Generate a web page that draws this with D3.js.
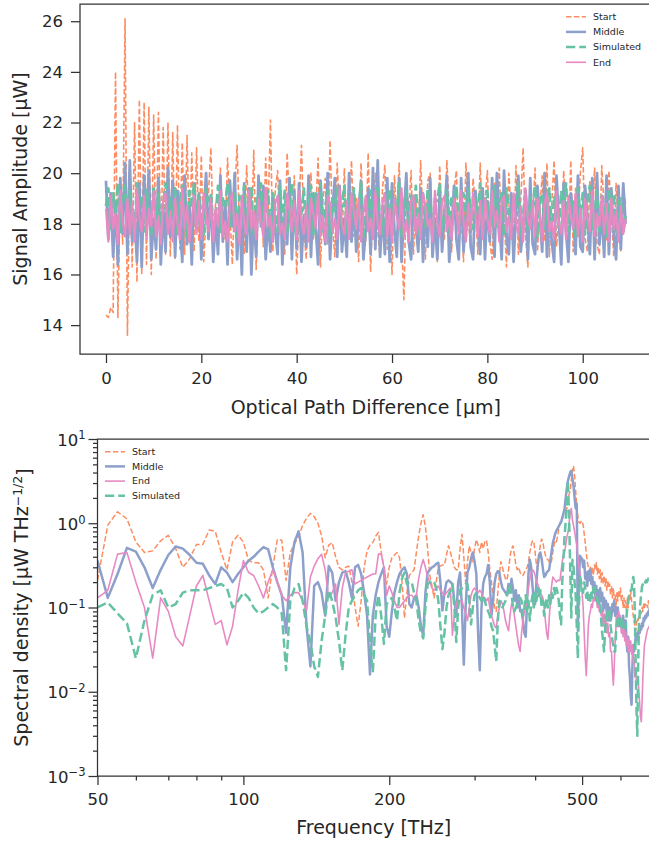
<!DOCTYPE html>
<html><head><meta charset="utf-8">
<script src="https://cdn.jsdelivr.net/npm/d3@7"></script>
<style>body{margin:0;background:#fff;} svg{display:block;background:#fff;}</style>
</head><body><svg id="chart" width="649" height="844"></svg>
<script>
// ---------------- DATA ----------------
// Top panel: signal amplitude (µW) vs optical path difference, sampled every 0.5 µm from 0 µm
const opdStart = 0, opdStep = 0.5;
const startSignal = [
14.4,14.3,14.7,14.5,24.0,14.3,19.5,17.2,26.1,13.6,
20.5,16.3,22.0,15.7,22.9,16.0,22.8,16.4,22.6,16.0,
22.3,16.6,22.4,16.5,21.8,16.8,22.0,16.7,21.6,16.6,
21.9,17.0,21.2,16.8,21.5,17.2,20.8,16.9,21.0,17.3,
20.7,16.5,18.3,19.2,21.0,17.6,18.8,16.9,20.2,18.0,
17.4,20.6,18.5,16.4,19.1,21.1,17.8,18.6,16.8,20.3,
18.2,17.5,20.9,16.2,18.9,19.6,17.1,20.6,18.4,22.1,
16.9,19.3,20.1,17.6,18.1,16.8,20.8,18.7,17.3,19.9,
16.0,18.6,21.1,17.9,16.6,19.2,20.0,17.4,18.5,20.6,
16.3,18.9,19.8,17.2,21.3,18.0,16.7,20.4,18.3,17.1,
20.2,16.8,18.7,20.5,17.5,19.0,16.5,20.4,18.1,17.3,
20.8,16.1,18.6,20.0,17.7,16.7,19.4,20.3,17.0,18.5,
16.0,19.9,18.2,20.4,17.3,15.0,19.6,18.4,20.1,16.8,
18.9,17.4,20.5,18.1,16.6,19.7,20.0,17.5,18.8,16.5,
20.3,18.0,17.4,20.5,18.6,16.9,19.3,20.1,17.2,18.4,
16.5,20.4,18.2,17.1,19.8,18.7,16.8,20.4,17.6,18.9,
20.1,17.3,16.6,19.6,18.3,20.2,17.0,18.5,16.3,20.0,
18.4,17.2,20.3,16.8,18.9,21.0,17.5,16.3,19.4,18.2,
20.2,16.9,18.6,19.9,17.3,20.4,16.7,18.8,20.5,17.1,
18.3,16.8,20.1,18.7,17.2,20.5,16.9,19.4,18.0,20.0,
21.0,17.4,16.9,19.7,18.5,20.2,17.2,16.8,20.3,18.6,
17.3,20.1,18.4,16.7,19.6,17.8,16.9,19.4,18.8];
const middleSignal = [
19.7,17.4,19.2,16.7,18.9,16.4,19.8,17.6,20.4,16.8,
20.5,17.3,18.4,16.5,19.6,16.3,19.9,17.8,20.1,16.6,
18.2,17.0,19.8,16.4,18.6,16.9,20.2,17.5,19.7,16.7,
19.3,18.1,16.5,19.9,17.2,18.7,16.4,19.6,17.8,19.2,
16.6,18.4,20.0,17.4,19.1,16.5,18.3,16.8,19.9,17.3,
18.9,16.4,19.7,17.9,20.0,16.6,18.6,16.0,19.6,16.9,
19.4,16.0,18.5,16.7,19.9,17.9,19.5,16.6,18.2,16.9,
19.1,17.7,16.8,19.7,16.4,18.4,17.2,19.8,16.6,19.3,
17.0,19.6,16.5,18.3,17.1,19.9,16.7,19.2,17.8,16.4,
19.7,18.1,17.2,20.0,16.6,18.5,19.8,16.7,19.5,16.9,
18.2,16.7,20.0,17.3,19.1,16.9,18.4,19.7,16.6,17.8,
19.4,16.8,20.2,17.0,20.5,16.7,18.6,16.8,19.8,16.5,
19.6,17.8,16.7,19.8,16.5,18.3,20.0,17.3,16.6,19.1,
17.9,16.9,19.4,16.5,18.8,17.1,19.8,16.7,18.2,16.6,
19.2,16.9,18.4,19.9,16.5,17.6,19.5,17.4,16.6,19.8,
16.9,18.2,20.0,17.1,16.6,19.3,18.1,16.8,19.4,16.6,
18.9,17.3,19.8,16.7,20.0,18.2,16.6,20.1,17.5,16.8,
19.2,16.5,18.4,19.9,16.9,17.8,19.3,16.6,19.8,17.2,
16.8,19.5,18.3,16.9,20.0,16.7,18.6,17.3,16.5,19.9,
18.1,16.4,19.6,17.7,16.5,19.2,18.4,16.8,19.9,17.1,
16.9,19.5,18.2,16.8,19.8,16.6,20.0,17.2,18.5,16.7,
19.9,16.8,19.4,17.6,16.6,19.5,17.0,19.6,18.0];
const simulatedSignal = [
18.7,19.4,17.8,19.2,18.4,19.6,17.6,18.9,19.5,17.9,
19.3,18.2,17.5,19.6,18.8,19.1,17.7,19.4,18.5,17.6,
19.5,18.1,19.2,17.4,18.7,19.6,17.9,19.0,18.3,19.4,
17.6,18.9,19.5,18.2,17.5,19.3,18.6,19.6,17.8,19.1,
18.4,17.5,19.4,18.9,19.2,17.7,18.3,19.5,17.6,19.0,
18.7,19.6,17.9,18.4,19.3,17.5,19.1,18.8,19.5,17.7,
18.2,19.4,17.6,19.0,18.5,19.6,17.8,18.9,19.3,17.5,
19.2,18.6,17.7,19.5,18.1,19.3,17.6,18.8,19.6,18.0,
17.5,19.1,18.4,19.4,17.8,18.9,19.5,17.6,19.2,18.3,
19.6,17.7,18.7,19.3,17.5,19.0,18.5,19.4,17.9,18.8,
19.5,17.6,19.1,18.2,19.4,17.8,18.6,19.6,17.5,19.0,
18.3,19.3,17.7,18.9,19.5,18.0,17.6,19.2,18.7,19.4,
17.8,19.0,18.4,19.6,17.5,18.8,19.3,17.9,19.1,18.2,
19.5,17.6,18.7,19.2,17.8,19.4,18.3,17.5,19.0,18.9,
19.6,17.7,18.5,19.3,17.6,19.1,18.8,19.5,17.9,18.4,
19.2,17.5,19.4,18.6,17.8,19.0,18.3,19.6,17.7,18.9,
19.3,17.6,18.2,19.5,17.9,18.8,19.2,17.5,19.4,18.5,
17.8,19.1,18.7,19.6,17.6,18.4,19.3,17.7,19.0,18.6,
19.5,17.5,18.9,19.2,17.8,18.3,19.4,17.6,19.1,18.7,
17.9,19.3,18.5,19.6,17.7,18.8,19.0,17.5,19.4,18.2,
19.2,17.6,18.9,19.5,17.8,18.4,19.3,17.7,19.1,18.6,
17.5,19.4,18.0,19.2,17.6,18.8,19.0,17.7,18.3];
const endSignal = [
18.6,17.3,19.1,17.8,18.4,17.2,19.3,18.1,17.5,19.0,
17.6,18.8,17.3,19.4,18.2,17.7,19.1,17.4,18.6,17.9,
19.3,17.5,18.3,17.2,18.9,19.2,17.6,18.5,17.3,19.0,
18.0,17.4,19.4,17.8,18.7,17.3,18.2,19.1,17.6,18.9,
17.4,19.2,18.3,17.7,19.0,17.3,18.6,17.9,19.3,17.5,
18.1,17.3,18.9,19.2,17.7,18.4,17.2,19.1,18.0,17.6,
19.3,17.8,18.5,17.4,19.0,18.2,17.5,19.4,17.9,18.3,
17.3,18.8,19.1,17.6,18.0,17.4,19.2,18.6,17.7,18.9,
17.4,19.3,18.1,17.6,18.7,17.3,19.0,18.4,17.8,19.2,
17.5,18.3,17.3,19.1,18.8,17.7,18.2,17.4,19.4,18.0,
17.6,18.9,17.4,19.2,18.5,17.8,19.0,17.3,18.4,19.1,
17.7,18.2,17.4,19.3,18.0,17.6,18.8,19.2,17.5,18.6,
17.3,19.0,18.3,17.8,19.4,17.5,18.1,17.3,18.9,19.1,
17.6,18.4,17.4,19.2,18.7,17.9,18.2,17.3,19.3,18.0,
17.5,18.9,19.1,17.7,18.3,17.4,19.0,18.5,17.6,19.3,
18.1,17.3,18.8,17.8,19.2,18.4,17.5,18.9,17.4,19.0,
18.2,17.6,19.3,17.9,18.5,17.3,18.9,19.1,17.7,18.3,
17.4,19.2,18.0,17.6,18.7,17.3,19.4,18.2,17.8,18.9,
17.5,19.0,18.4,17.3,18.8,19.2,17.7,18.1,17.4,19.3,
18.0,17.6,18.9,17.4,19.1,18.3,17.8,19.2,17.5,18.6,
17.3,19.0,18.2,17.7,19.3,17.5,18.4,17.9,19.1,17.6,
18.8,17.3,19.0,17.8,18.5,17.3,18.7,17.6,18.2];

// Bottom panel: spectral density (µW THz^-1/2) vs frequency, sampled every 2.5 THz from 50 THz
const freqStart = 50, freqStep = 2.5;
const startSpectrum = [
0.21,0.95,1.37,1.13,0.60,0.45,0.47,0.62,0.72,0.50,
0.30,0.38,0.56,0.56,0.83,0.80,0.45,0.28,0.60,0.72,
0.60,0.36,0.34,0.34,0.28,0.13,0.30,0.64,0.63,0.21,
0.45,0.57,0.70,0.94,1.15,1.31,1.20,1.00,0.71,0.39,
0.55,0.59,0.40,0.30,0.28,0.30,0.31,0.20,0.10,0.06,
0.12,0.30,0.47,0.55,0.59,0.70,0.78,0.45,0.30,0.19,
0.30,0.39,0.42,0.45,0.39,0.20,0.075,0.15,0.24,0.26,
0.28,0.45,0.71,1.00,1.26,0.90,0.50,0.24,0.18,0.13,
0.20,0.30,0.31,0.32,0.32,0.42,0.54,0.45,0.37,0.30,
0.28,0.28,0.50,0.74,0.40,0.20,0.35,0.54,0.45,0.35,
0.50,0.64,0.55,0.45,0.60,0.50,0.60,0.63,0.45,0.28,
0.20,0.14,0.10,0.09,0.15,0.25,0.35,0.30,0.25,0.22,
0.21,0.28,0.40,0.50,0.54,0.42,0.32,0.28,0.30,0.26,
0.24,0.24,0.26,0.28,0.30,0.35,0.45,0.55,0.62,0.60,
0.45,0.32,0.28,0.40,0.55,0.65,0.60,0.48,0.42,0.38,
0.37,0.35,0.33,0.36,0.45,0.55,0.62,0.60,0.70,0.85,
1.00,1.10,1.20,1.25,1.35,1.45,1.50,1.90,2.20,2.40,
3.20,4.20,4.80,3.60,2.40,1.60,1.20,1.03,1.00,1.05,
1.07,0.95,0.75,0.59,0.45,0.35,0.30,0.28,0.30,0.26,
0.30,0.24,0.32,0.28,0.34,0.25,0.30,0.22,0.28,0.20,
0.26,0.19,0.24,0.18,0.22,0.16,0.21,0.17,0.19,0.14,
0.18,0.13,0.17,0.12,0.14,0.10,0.15,0.12,0.16,0.13,
0.17,0.12,0.14,0.10,0.13,0.10,0.12,0.09,0.13,0.10,
0.14,0.12,0.16,0.12,0.10,0.08,0.07,0.06,0.053,0.065,
0.075,0.07,0.08,0.075,0.09,0.085,0.10,0.09,0.11,0.10,
0.11,0.105,0.11,0.10,0.12,0.11,0.12];
const middleSpectrum = [
0.36,0.13,0.25,0.51,0.46,0.30,0.17,0.28,0.42,0.53,
0.50,0.42,0.34,0.33,0.24,0.19,0.30,0.26,0.20,0.25,
0.30,0.36,0.40,0.46,0.52,0.49,0.30,0.20,0.14,0.05,
0.30,0.60,0.80,0.45,0.06,0.02,0.18,0.20,0.15,0.08,
0.31,0.26,0.12,0.20,0.26,0.27,0.20,0.13,0.30,0.32,
0.25,0.15,0.08,0.016,0.08,0.14,0.20,0.25,0.30,0.06,
0.045,0.09,0.15,0.20,0.25,0.28,0.30,0.25,0.11,0.10,
0.13,0.14,0.10,0.06,0.046,0.15,0.26,0.28,0.30,0.31,
0.33,0.34,0.20,0.092,0.15,0.20,0.21,0.20,0.19,0.12,
0.08,0.20,0.26,0.10,0.021,0.10,0.26,0.30,0.38,0.45,
0.35,0.25,0.05,0.018,0.10,0.19,0.23,0.25,0.32,0.20,
0.08,0.12,0.20,0.25,0.27,0.26,0.20,0.17,0.16,0.15,
0.14,0.19,0.15,0.22,0.17,0.12,0.16,0.10,0.14,0.09,
0.09,0.07,0.05,0.045,0.12,0.25,0.37,0.30,0.18,0.12,
0.11,0.20,0.32,0.42,0.45,0.38,0.29,0.23,0.24,0.26,
0.27,0.28,0.36,0.46,0.58,0.66,0.75,0.82,0.86,0.92,
0.98,1.03,1.15,1.30,1.50,2.00,2.60,3.20,3.60,4.00,
4.20,3.40,2.80,2.00,1.50,1.70,0.053,0.20,0.41,0.39,
0.38,0.30,0.36,0.22,0.26,0.18,0.27,0.21,0.28,0.19,
0.23,0.15,0.20,0.13,0.18,0.12,0.16,0.11,0.17,0.12,
0.15,0.09,0.13,0.10,0.12,0.08,0.11,0.07,0.10,0.07,
0.08,0.11,0.09,0.12,0.08,0.10,0.07,0.10,0.06,0.08,
0.06,0.07,0.05,0.08,0.06,0.05,0.07,0.04,0.03,0.045,
0.02,0.015,0.009,0.007,0.02,0.036,0.03,0.036,0.045,0.04,
0.05,0.045,0.055,0.05,0.06,0.055,0.065,0.06,0.075,0.07,
0.08,0.075,0.085,0.08,0.09,0.09,0.10];
const endSpectrum = [
0.13,0.16,0.43,0.45,0.20,0.10,0.025,0.13,0.09,0.045,
0.035,0.08,0.18,0.24,0.12,0.063,0.07,0.036,0.06,0.16,
0.36,0.26,0.24,0.18,0.13,0.20,0.28,0.20,0.14,0.12,
0.14,0.15,0.15,0.12,0.092,0.23,0.31,0.38,0.43,0.28,
0.13,0.15,0.19,0.063,0.17,0.26,0.27,0.28,0.19,0.20,
0.21,0.22,0.23,0.24,0.25,0.25,0.43,0.43,0.30,0.14,
0.18,0.15,0.12,0.10,0.10,0.11,0.12,0.13,0.14,0.14,
0.13,0.14,0.22,0.30,0.37,0.30,0.23,0.20,0.17,0.16,
0.17,0.18,0.16,0.15,0.14,0.15,0.16,0.17,0.047,0.08,
0.11,0.12,0.12,0.12,0.10,0.085,0.07,0.10,0.14,0.16,
0.17,0.16,0.15,0.16,0.15,0.12,0.13,0.12,0.13,0.10,
0.08,0.07,0.06,0.057,0.08,0.10,0.12,0.11,0.09,0.07,
0.06,0.053,0.08,0.11,0.10,0.08,0.06,0.045,0.035,0.03,
0.05,0.07,0.09,0.10,0.13,0.17,0.22,0.26,0.28,0.27,
0.24,0.20,0.19,0.17,0.15,0.14,0.13,0.10,0.07,0.05,
0.042,0.07,0.12,0.18,0.23,0.22,0.21,0.20,0.21,0.21,
0.21,0.27,0.35,0.42,0.45,0.55,0.68,0.78,1.00,1.30,
1.50,1.10,0.94,0.80,0.65,0.55,0.40,0.30,0.26,0.20,
0.15,0.10,0.05,0.025,0.0155,0.03,0.06,0.08,0.09,0.11,
0.10,0.13,0.12,0.14,0.13,0.10,0.12,0.09,0.10,0.08,
0.09,0.06,0.085,0.055,0.07,0.05,0.065,0.045,0.05,0.03,
0.03,0.018,0.012,0.02,0.04,0.06,0.08,0.06,0.09,0.07,
0.08,0.05,0.07,0.045,0.06,0.04,0.05,0.035,0.045,0.03,
0.042,0.03,0.04,0.028,0.035,0.022,0.025,0.015,0.018,0.012,
0.014,0.014,0.01,0.007,0.005,0.0044,0.008,0.015,0.025,0.036,
0.04,0.045,0.05,0.055,0.057,0.06,0.06];
const simulatedSpectrum = [
0.10,0.115,0.085,0.065,0.025,0.07,0.14,0.16,0.10,0.11,
0.15,0.16,0.16,0.16,0.17,0.18,0.19,0.17,0.10,0.12,
0.15,0.13,0.10,0.085,0.09,0.10,0.11,0.10,0.085,0.018,
0.12,0.17,0.19,0.12,0.06,0.039,0.02,0.015,0.04,0.08,
0.16,0.12,0.076,0.04,0.018,0.047,0.10,0.12,0.14,0.16,
0.17,0.14,0.12,0.04,0.017,0.083,0.14,0.08,0.037,0.11,
0.12,0.13,0.10,0.07,0.15,0.22,0.26,0.19,0.20,0.20,
0.15,0.12,0.07,0.05,0.043,0.10,0.19,0.20,0.21,0.20,
0.17,0.12,0.06,0.032,0.05,0.10,0.14,0.16,0.19,0.10,
0.039,0.10,0.16,0.17,0.18,0.19,0.19,0.12,0.063,0.10,
0.14,0.15,0.14,0.13,0.12,0.14,0.12,0.10,0.09,0.08,
0.06,0.053,0.035,0.023,0.07,0.12,0.11,0.10,0.11,0.12,
0.14,0.16,0.19,0.15,0.10,0.09,0.10,0.11,0.12,0.13,
0.12,0.08,0.10,0.14,0.09,0.12,0.07,0.11,0.14,0.10,
0.15,0.12,0.17,0.13,0.16,0.10,0.12,0.08,0.11,0.13,
0.10,0.14,0.11,0.15,0.13,0.17,0.14,0.17,0.15,0.12,
0.08,0.063,0.20,0.37,0.70,1.03,1.90,3.17,1.20,0.30,
0.076,0.37,0.30,0.20,0.14,0.06,0.025,0.10,0.23,0.20,
0.18,0.15,0.20,0.17,0.13,0.16,0.12,0.14,0.12,0.15,
0.13,0.17,0.14,0.17,0.12,0.14,0.11,0.12,0.11,0.07,
0.05,0.04,0.03,0.05,0.08,0.07,0.09,0.08,0.09,0.06,
0.05,0.04,0.035,0.03,0.03,0.05,0.07,0.06,0.075,0.07,
0.076,0.06,0.07,0.055,0.06,0.057,0.057,0.08,0.10,0.12,
0.14,0.15,0.16,0.16,0.20,0.23,0.20,0.08,0.02,0.006,
0.003,0.02,0.06,0.09,0.12,0.15,0.18,0.19,0.20,0.19,
0.20,0.21,0.20,0.21,0.22,0.21,0.22];

// Tick values and labels
const topXTicks = [0, 20, 40, 60, 80, 100];
const topYTicks = [14, 16, 18, 20, 22, 24, 26];
const botXMajor = [50, 100, 200, 500];
const botXMinor = [60, 70, 80, 90, 300, 400, 600];
const botYExponents = [-3, -2, -1, 0, 1];
const topOrder = ["Start", "Middle", "Simulated", "End"];
const botOrder = ["Start", "Middle", "End", "Simulated"];

// ---------------- STYLE ----------------
const FONT = "DejaVu Sans";
const AX = "#333333", TX = "#262626";
const TICK_FS = 16.5, LABEL_FS = 19;
const styles = {
  Start:     {color: "#fc8d62", width: 1.5, dash: "5.5,2.4"},
  Middle:    {color: "#8da0cb", width: 2.5, dash: null},
  Simulated: {color: "#66c2a5", width: 2.5, dash: "9.25,4"},
  End:       {color: "#e78ac3", width: 1.6, dash: null}
};
// dense top-panel traces render slightly heavier
const topWidth = {Start: 1.6, Middle: 2.8, Simulated: 2.8, End: 2.2};

const svg = d3.select("#chart");
const defs = svg.append("defs");

function styleAxis(g) {
  g.select(".domain").remove();
  g.attr("font-family", FONT).attr("font-size", TICK_FS);
  g.selectAll(".tick line").attr("stroke", AX).attr("stroke-width", 1.25);
  g.selectAll(".tick text").attr("fill", TX);
}
function legend(x0, y0, dy, names) {
  const g = svg.append("g");
  names.forEach((n, i) => {
    const s = styles[n], y = y0 + i * dy;
    g.append("line").attr("x1", x0).attr("x2", x0 + 20).attr("y1", y).attr("y2", y)
      .attr("stroke", s.color).attr("stroke-width", s.width).attr("stroke-dasharray", s.dash);
    g.append("text").attr("x", x0 + 27).attr("y", y).attr("dy", "0.35em")
      .attr("font-family", FONT).attr("font-size", 9.5).attr("fill", TX).text(n);
  });
}

// ---------------- TOP PANEL ----------------
const T = {l: 80, r: 651.6, t: 4, b: 354};
const X1 = d3.scaleLinear().domain([-5.45, 114.45]).range([T.l, T.r]);
const Y1 = d3.scaleLinear().domain([12.86, 26.68]).range([T.b, T.t]);
const topData = {Start: startSignal, Middle: middleSignal, Simulated: simulatedSignal, End: endSignal};

defs.append("clipPath").attr("id", "clipTop").append("rect")
  .attr("x", T.l).attr("y", T.t).attr("width", T.r - T.l).attr("height", T.b - T.t);
const gTop = svg.append("g").attr("clip-path", "url(#clipTop)");
topOrder.forEach(n => {
  const s = styles[n];
  const line = d3.line().x((d, i) => X1(opdStart + i * opdStep)).y(d => Y1(d));
  gTop.append("path").datum(topData[n]).attr("fill", "none")
    .attr("stroke", s.color).attr("stroke-width", topWidth[n]).attr("stroke-dasharray", s.dash)
    .attr("stroke-linejoin", "round").attr("d", line);
});

const gx1 = svg.append("g").attr("transform", `translate(0,${T.b})`)
  .call(d3.axisBottom(X1).tickValues(topXTicks).tickSize(9).tickPadding(9).tickFormat(d3.format("d")));
styleAxis(gx1);
const gy1 = svg.append("g").attr("transform", `translate(${T.l},0)`)
  .call(d3.axisLeft(Y1).tickValues(topYTicks).tickSize(9).tickPadding(8).tickFormat(d3.format("d")));
styleAxis(gy1);

svg.append("path").attr("fill", "none").attr("stroke", AX).attr("stroke-width", 1.25)
  .attr("d", `M${T.r},${T.t}H${T.l}V${T.b}H${T.r}`);

svg.append("text").attr("x", (T.l + T.r) / 2).attr("y", 414).attr("text-anchor", "middle")
  .attr("font-family", FONT).attr("font-size", LABEL_FS).attr("fill", TX).text("Optical Path Difference [µm]");
svg.append("text").attr("transform", `translate(27,${(T.t + T.b) / 2}) rotate(-90)`).attr("text-anchor", "middle")
  .attr("font-family", FONT).attr("font-size", LABEL_FS).attr("fill", TX).text("Signal Amplitude [µW]");

legend(566, 16.7, 15.2, topOrder);

// ---------------- BOTTOM PANEL ----------------
const B = {l: 97.5, t: 439, b: 776};
B.r = B.l + 484.6 * Math.log10(690 / 50);
const X2 = d3.scaleLog().domain([50, 690]).range([B.l, B.r]);
const Y2 = d3.scaleLog().domain([1e-3, 1e1]).range([B.b, B.t]);
const botData = {Start: startSpectrum, Middle: middleSpectrum, End: endSpectrum, Simulated: simulatedSpectrum};

defs.append("clipPath").attr("id", "clipBot").append("rect")
  .attr("x", B.l).attr("y", B.t).attr("width", B.r - B.l).attr("height", B.b - B.t);
const gBot = svg.append("g").attr("clip-path", "url(#clipBot)");
botOrder.forEach(n => {
  const s = styles[n];
  const line = d3.line().x((d, i) => X2(freqStart + i * freqStep)).y(d => Y2(d));
  gBot.append("path").datum(botData[n]).attr("fill", "none")
    .attr("stroke", s.color).attr("stroke-width", s.width).attr("stroke-dasharray", s.dash)
    .attr("stroke-linejoin", "round").attr("d", line);
});

const gx2 = svg.append("g").attr("transform", `translate(0,${B.b})`)
  .call(d3.axisBottom(X2).tickValues(botXMajor).tickSize(9).tickPadding(8).tickFormat(d3.format("d")));
styleAxis(gx2);
const gx2m = svg.append("g").attr("transform", `translate(0,${B.b})`)
  .call(d3.axisBottom(X2).tickValues(botXMinor).tickSize(4.5).tickFormat(() => ""));
styleAxis(gx2m);

const yMajor = botYExponents.map(e => Math.pow(10, e));
const yMinor = [];
botYExponents.slice(0, -1).forEach(e => { for (let k = 2; k <= 9; k++) yMinor.push(k * Math.pow(10, e)); });
const gy2 = svg.append("g").attr("transform", `translate(${B.l},0)`)
  .call(d3.axisLeft(Y2).tickValues(yMajor).tickSize(9).tickFormat(() => ""));
styleAxis(gy2);
const gy2m = svg.append("g").attr("transform", `translate(${B.l},0)`)
  .call(d3.axisLeft(Y2).tickValues(yMinor).tickSize(4.5).tickFormat(() => ""));
styleAxis(gy2m);

botYExponents.forEach(e => {
  const t = svg.append("text").attr("x", B.l - 12).attr("y", Y2(Math.pow(10, e))).attr("dy", "0.4em")
    .attr("text-anchor", "end").attr("font-family", FONT).attr("font-size", TICK_FS).attr("fill", TX);
  t.append("tspan").text("10");
  t.append("tspan").attr("dy", "-0.55em").attr("font-size", 11.5).text(e < 0 ? "\u2212" + Math.abs(e) : String(e));
});

svg.append("path").attr("fill", "none").attr("stroke", AX).attr("stroke-width", 1.25)
  .attr("d", `M${B.r + 5},${B.t}H${B.l}V${B.b}H${B.r + 5}`);

svg.append("text").attr("x", (B.l + B.r) / 2).attr("y", 834).attr("text-anchor", "middle")
  .attr("font-family", FONT).attr("font-size", LABEL_FS).attr("fill", TX).text("Frequency [THz]");
const yl = svg.append("text").attr("transform", `translate(28,${(B.t + B.b) / 2}) rotate(-90)`).attr("text-anchor", "middle")
  .attr("font-family", FONT).attr("font-size", LABEL_FS).attr("fill", TX);
yl.append("tspan").text("Spectral density [µW THz");
yl.append("tspan").attr("dy", "-0.5em").attr("font-size", 12.5).text("\u22121/2");
yl.append("tspan").attr("dy", "0.5em").text("]");

legend(105, 451.7, 14.7, botOrder);
</script>
</body></html>
